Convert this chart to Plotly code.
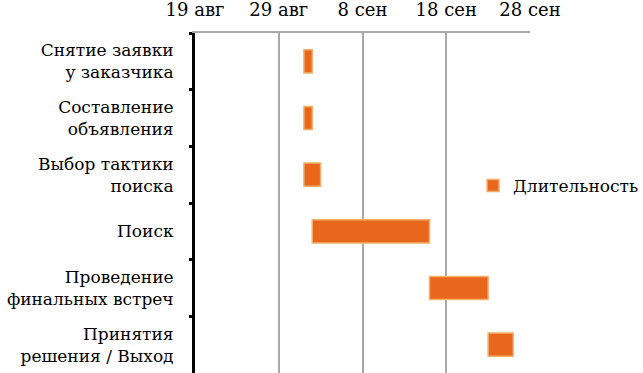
import plotly.graph_objects as go

tasks = [
    "Снятие заявки<br>у заказчика",
    "Составление<br>объявления",
    "Выбор тактики<br>поиска",
    "Поиск",
    "Проведение<br>финальных встреч",
    "Принятия<br>решения / Выход",
]
start_dates = ["2012-09-01", "2012-09-01", "2012-09-01", "2012-09-02", "2012-09-16", "2012-09-23"]
durations_days = [1, 1, 2, 14, 7, 3]
series_name = "Длительность"

tick_dates = ["2012-08-19", "2012-08-29", "2012-09-08", "2012-09-18", "2012-09-28"]
tick_labels = ["19 авг", "29 авг", "8 сен", "18 сен", "28 сен"]

DAY_MS = 24 * 3600 * 1000
FONT = "DejaVu Serif"

fig = go.Figure()
fig.add_trace(go.Bar(
    y=tasks,
    x=[d * DAY_MS for d in durations_days],
    base=start_dates,
    orientation="h",
    width=0.41,
    name=series_name,
    showlegend=True,
    marker=dict(color="#E8671C", line=dict(color="#F2B06E", width=1.5)),
))

fig.update_layout(
    width=643, height=373,
    margin=dict(l=195, r=113, t=33, b=0, autoexpand=False),
    paper_bgcolor="white", plot_bgcolor="white",
    font=dict(family=FONT, size=17, color="black"),
    showlegend=True,
    legend=dict(x=0.83, y=0.55, xanchor="left", yanchor="middle",
                font=dict(family=FONT, size=17, color="black"),
                bgcolor="rgba(0,0,0,0)", itemwidth=30),
    bargap=0.5,
)
fig.update_xaxes(
    type="date", side="top",
    range=[tick_dates[0], tick_dates[-1]],
    tickvals=tick_dates, ticktext=tick_labels,
    showgrid=True, gridcolor="#A8A8A8", gridwidth=2,
    showline=True, linecolor="#A8A8A8", linewidth=2,
    ticks="", zeroline=False, automargin=False,
    tickfont=dict(family=FONT, size=18, color="black"),
    ticklabelstandoff=8,
)
fig.update_yaxes(
    type="category", categoryorder="array", categoryarray=tasks,
    autorange="reversed",
    tickson="boundaries", automargin=False,
    showgrid=False, showline=True, linecolor="black", linewidth=3,
    ticks="outside", ticklen=3, tickwidth=3, tickcolor="black",
    tickfont=dict(family=FONT, size=17, color="black"),
    ticklabelstandoff=15,
)

fig.write_html("out.html", config={"displayModeBar": False},
               post_script="document.body.style.margin='0';")
